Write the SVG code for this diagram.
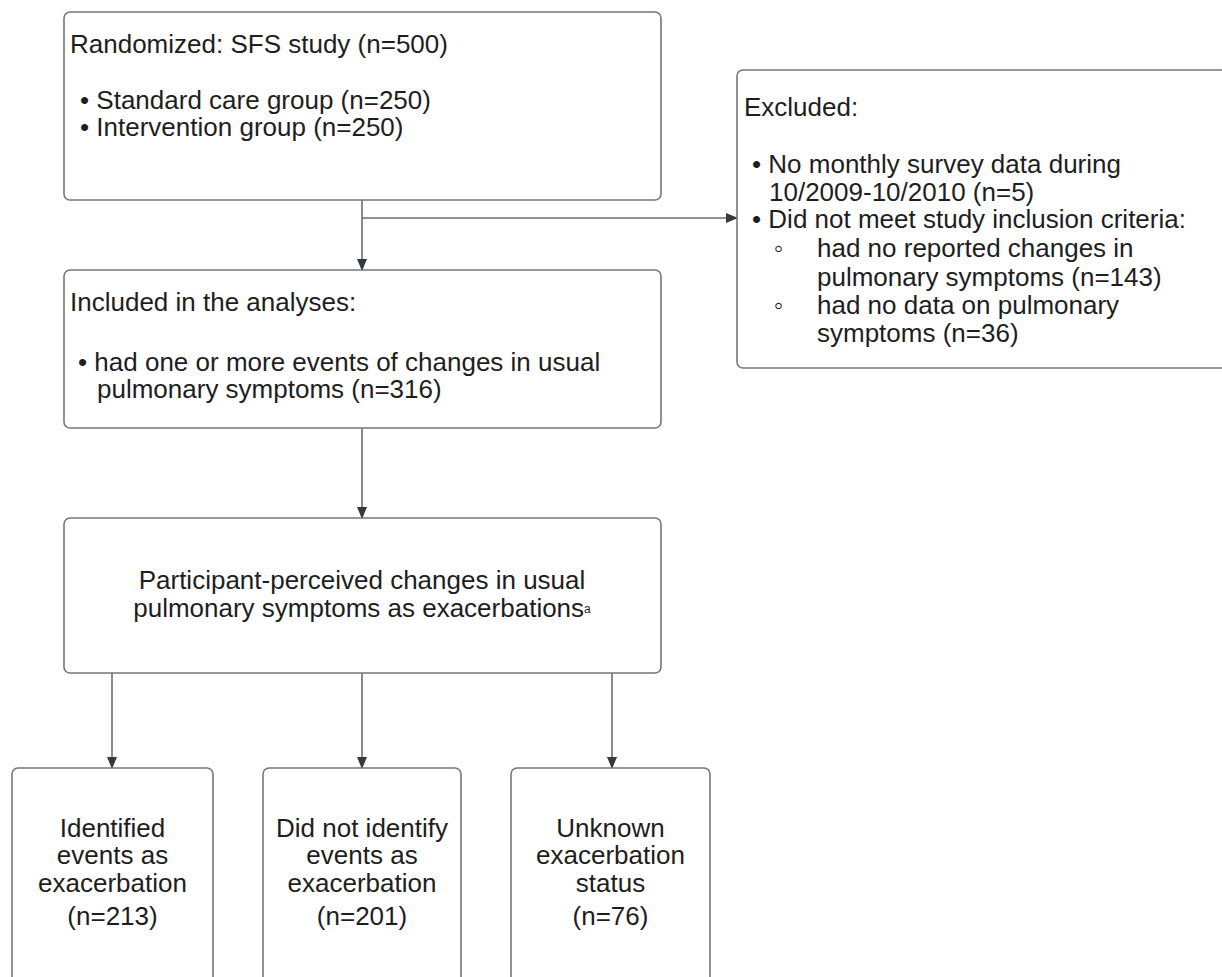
<svg xmlns="http://www.w3.org/2000/svg" width="1222" height="977" viewBox="0 0 1222 977">
<defs>
<marker id="arr" markerWidth="12" markerHeight="12" refX="11" refY="6" orient="auto" markerUnits="userSpaceOnUse">
<path d="M0,1 L12,6 L0,11 Z" fill="#333a40"/>
</marker>
<style>
.box{fill:#fff;stroke:#777;stroke-width:1.6}
.t{font-family:"Liberation Sans",Arial,sans-serif;font-size:26px;fill:#1e1e1e}
.c{text-anchor:middle}
.ln{stroke:#6e6e6e;stroke-width:1.6;fill:none}
</style>
</defs>
<rect width="1222" height="977" fill="#fff"/>
<g id="connectors">
<line class="ln" x1="362" y1="200" x2="362" y2="270" marker-end="url(#arr)"/>
<line class="ln" x1="362" y1="218" x2="737" y2="218" marker-end="url(#arr)"/>
<line class="ln" x1="362" y1="428" x2="362" y2="518" marker-end="url(#arr)"/>
<line class="ln" x1="112" y1="673" x2="112" y2="768" marker-end="url(#arr)"/>
<line class="ln" x1="362" y1="673" x2="362" y2="768" marker-end="url(#arr)"/>
<line class="ln" x1="612" y1="673" x2="612" y2="768" marker-end="url(#arr)"/>
</g>
<g id="randomized">
<rect class="box" x="64" y="12" width="597" height="188" rx="6"/>
<text class="t" x="70" y="53">Randomized: SFS study (n=500)</text>
<text class="t" x="80" y="109">• Standard care group (n=250)</text>
<text class="t" x="80" y="136">• Intervention group (n=250)</text>
</g>
<g id="excluded">
<rect class="box" x="737" y="70" width="490" height="298" rx="6"/>
<text class="t" x="744" y="116">Excluded:</text>
<text class="t" x="752" y="173">• No monthly survey data during</text>
<text class="t" x="769" y="201">10/2009-10/2010 (n=5)</text>
<text class="t" x="752" y="228">• Did not meet study inclusion criteria:</text>
<text class="t" x="774" y="257">◦</text>
<text class="t" x="817" y="257">had no reported changes in</text>
<text class="t" x="817" y="286">pulmonary symptoms (n=143)</text>
<text class="t" x="774" y="314">◦</text>
<text class="t" x="817" y="314">had no data on pulmonary</text>
<text class="t" x="817" y="342">symptoms (n=36)</text>
</g>
<g id="included">
<rect class="box" x="64" y="270" width="597" height="158" rx="6"/>
<text class="t" x="70" y="311">Included in the analyses:</text>
<text class="t" x="78" y="371">• had one or more events of changes in usual</text>
<text class="t" x="97" y="398">pulmonary symptoms (n=316)</text>
</g>
<g id="perceived">
<rect class="box" x="64" y="518" width="597" height="155" rx="6"/>
<text class="t c" x="362" y="589">Participant-perceived changes in usual</text>
<text class="t c" x="362" y="617">pulmonary symptoms as exacerbations<tspan font-size="12" dy="-4">a</tspan></text>
</g>
<g id="identified">
<rect class="box" x="12" y="768" width="201" height="230" rx="6"/>
<text class="t c" x="112.5" y="837">Identified</text>
<text class="t c" x="112.5" y="864">events as</text>
<text class="t c" x="112.5" y="892">exacerbation</text>
<text class="t c" x="112.5" y="925">(n=213)</text>
</g>
<g id="not-identified">
<rect class="box" x="263" y="768" width="198" height="230" rx="6"/>
<text class="t c" x="362" y="837">Did not identify</text>
<text class="t c" x="362" y="864">events as</text>
<text class="t c" x="362" y="892">exacerbation</text>
<text class="t c" x="362" y="925">(n=201)</text>
</g>
<g id="unknown">
<rect class="box" x="511" y="768" width="199" height="230" rx="6"/>
<text class="t c" x="610.5" y="837">Unknown</text>
<text class="t c" x="610.5" y="864">exacerbation</text>
<text class="t c" x="610.5" y="892">status</text>
<text class="t c" x="610.5" y="925">(n=76)</text>
</g>
</svg>
